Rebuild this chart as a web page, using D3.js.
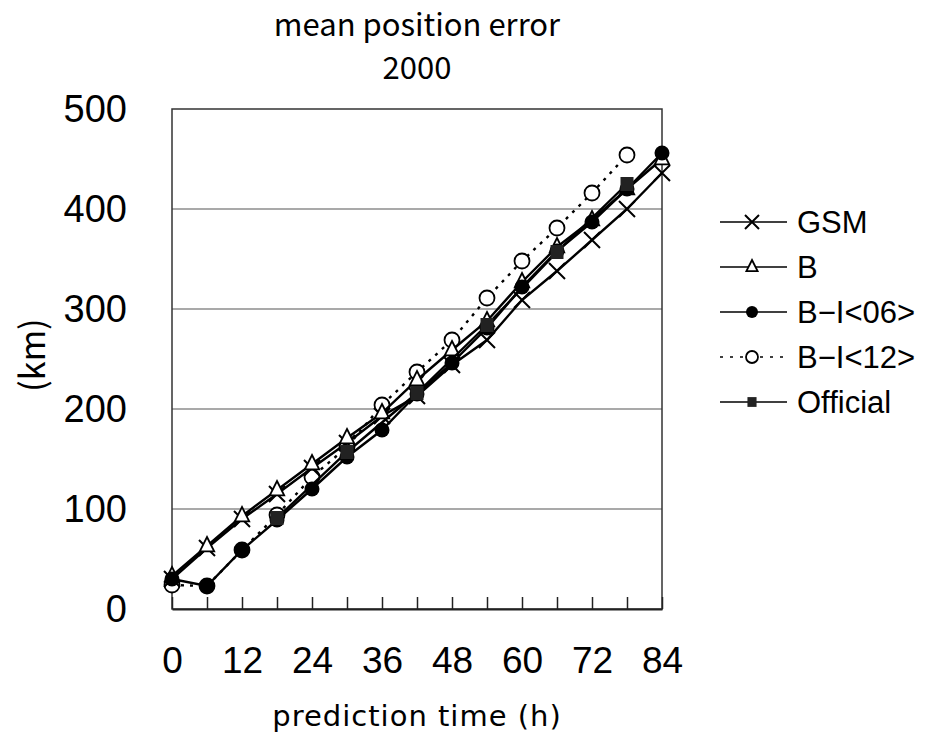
<!DOCTYPE html>
<html><head><meta charset="utf-8">
<script src="https://cdn.jsdelivr.net/npm/d3@7"></script>
<style>body{margin:0;background:#fff}svg{display:block}</style>
</head><body>
<svg id="c" width="930" height="746"></svg>
<script>
const hours = [0,6,12,18,24,30,36,42,48,54,60,66,72,78,84];
const gsm      = [30,61,90,115,141,166,193,213,244,269,309,338,369,400,436];
const bModel   = [33,63,93,119,145,171,196,229,259,288,327,362,389,420,450];
const bi06     = [30,23,59,89,120,152,179,215,246,281,322,358,387,420,456];
const bi12     = [24,23,59,94,132,162,204,237,269,311,348,381,416,454,null];
const official = [null,null,null,91,null,157,null,216,null,284,null,357,null,425,null];
const yTicks = [0,100,200,300,400,500];
const xLabels = ["0","12","24","36","48","60","72","84"];
const legendNames = ["GSM","B","B\u2212I<06>","B\u2212I<12>","Official"];

const svg = d3.select("#c");
const L=172,R=662,T=109,B=609;
const x = d3.scalePoint().domain(hours).range([L,R]);
const y = d3.scaleLinear().domain([0,500]).range([B,T]);

// gridlines
svg.append("g").selectAll("line").data(yTicks.filter(v=>v>0&&v<500)).join("line")
  .attr("x1",L).attr("x2",R).attr("y1",d=>y(d)).attr("y2",d=>y(d))
  .attr("stroke","#555").attr("stroke-width",1.2);
// frame
svg.append("rect").attr("x",L).attr("y",T).attr("width",R-L).attr("height",B-T)
  .attr("fill","none").attr("stroke","#333").attr("stroke-width",1.5);

// x axis
const xa = svg.append("g").attr("transform",`translate(0,${B})`)
  .call(d3.axisBottom(x).tickSizeInner(-12).tickSizeOuter(0).tickPadding(38)
    .tickFormat(d=> (d%12===0)? xLabels[d/12] : ""));
xa.select(".domain").attr("stroke","#222").attr("stroke-width",2);
xa.selectAll(".tick line").attr("stroke","#222").attr("stroke-width",1.5);
xa.selectAll("text").attr("font-family","Liberation Sans, Arial, sans-serif").attr("font-size",37).attr("fill","#000");

// y axis labels
const ya = svg.append("g").attr("transform",`translate(${L},0)`)
  .call(d3.axisLeft(y).tickValues(yTicks).tickSize(0).tickPadding(45));
ya.select(".domain").remove();
ya.selectAll("text").attr("font-family","Liberation Sans, Arial, sans-serif").attr("font-size",38).attr("fill","#000");

// titles
svg.append("text").attr("x",417).attr("y",36).attr("text-anchor","middle")
  .attr("font-family","Noto Sans CJK JP, sans-serif").attr("font-size",31).text("mean position error");
svg.append("text").attr("x",417).attr("y",79).attr("text-anchor","middle")
  .attr("font-family","Noto Sans CJK JP, sans-serif").attr("font-size",31).text("2000");
svg.append("text").attr("x",417).attr("y",726).attr("text-anchor","middle")
  .attr("font-family","DejaVu Sans, sans-serif").attr("font-size",29).attr("letter-spacing",1).text("prediction time (h)");
svg.append("text").attr("transform","translate(45,355) rotate(-90)").attr("text-anchor","middle")
  .attr("font-family","Noto Sans CJK JP, sans-serif").attr("font-size",34).text("(km)");

const series = [
  {name:legendNames[0], vals:gsm, dash:null, mark:"cross"},
  {name:legendNames[1], vals:bModel, dash:null, mark:"tri"},
  {name:legendNames[2], vals:bi06, dash:null, mark:"dot"},
  {name:legendNames[3], vals:bi12, dash:"3,6", mark:"ocirc"},
  {name:legendNames[4], vals:official, dash:null, mark:"sq"},
];

const line = d3.line().x(d=>x(d.h)).y(d=>y(d.v));
function drawMarker(g, type, cx, cy, s){
  if(type==="cross"){
    g.append("path").attr("d",`M${cx-s},${cy-s}L${cx+s},${cy+s}M${cx-s},${cy+s}L${cx+s},${cy-s}`)
      .attr("stroke","#000").attr("stroke-width",2).attr("fill","none");
  } else if(type==="tri"){
    g.append("path").attr("d",`M${cx},${cy-s}L${cx+s*0.8},${cy+s*0.6}L${cx-s*0.8},${cy+s*0.6}Z`)
      .attr("stroke","#000").attr("stroke-width",1.8).attr("fill","#fff");
  } else if(type==="dot"){
    g.append("circle").attr("cx",cx).attr("cy",cy).attr("r",s*0.75).attr("fill","#000");
  } else if(type==="ocirc"){
    g.append("circle").attr("cx",cx).attr("cy",cy).attr("r",s*0.75).attr("fill","#fff").attr("stroke","#000").attr("stroke-width",1.8);
  } else if(type==="sq"){
    g.append("rect").attr("x",cx-s*0.65).attr("y",cy-s*0.7).attr("width",s*1.3).attr("height",s*1.4).attr("fill","#222");
  }
}
const sizes = {cross:8, tri:9, dot:10, ocirc:10, sq:10};
// draw order: dashed B-I<12> underneath the solid series
const drawOrder = [3,0,1,2,4];
drawOrder.forEach(k=>{
  const s = series[k];
  const pts = hours.map((h,i)=>({h, v:s.vals[i]})).filter(d=>d.v!=null);
  const g = svg.append("g");
  g.append("path").attr("d",line(pts)).attr("fill","none").attr("stroke","#000")
    .attr("stroke-width",2.4).attr("stroke-dasharray",s.dash);
  pts.forEach(p=>drawMarker(g, s.mark, x(p.h), y(p.v), sizes[s.mark]));
});

// legend
const lg = svg.append("g");
series.forEach((s,i)=>{
  const cy = 222 + i*45;
  lg.append("line").attr("x1",720).attr("x2",787).attr("y1",cy).attr("y2",cy)
    .attr("stroke","#000").attr("stroke-width",1.5).attr("stroke-dasharray",s.dash?"3,7":null);
  const ls = {cross:7, tri:7, dot:8, ocirc:8, sq:7}[s.mark];
  drawMarker(lg, s.mark, 752, cy, ls);
  lg.append("text").attr("x",797).attr("y",cy).attr("dy","0.36em")
    .attr("font-family","Liberation Sans, Arial, sans-serif").attr("font-size",31).text(s.name);
});
</script>
</body></html>
